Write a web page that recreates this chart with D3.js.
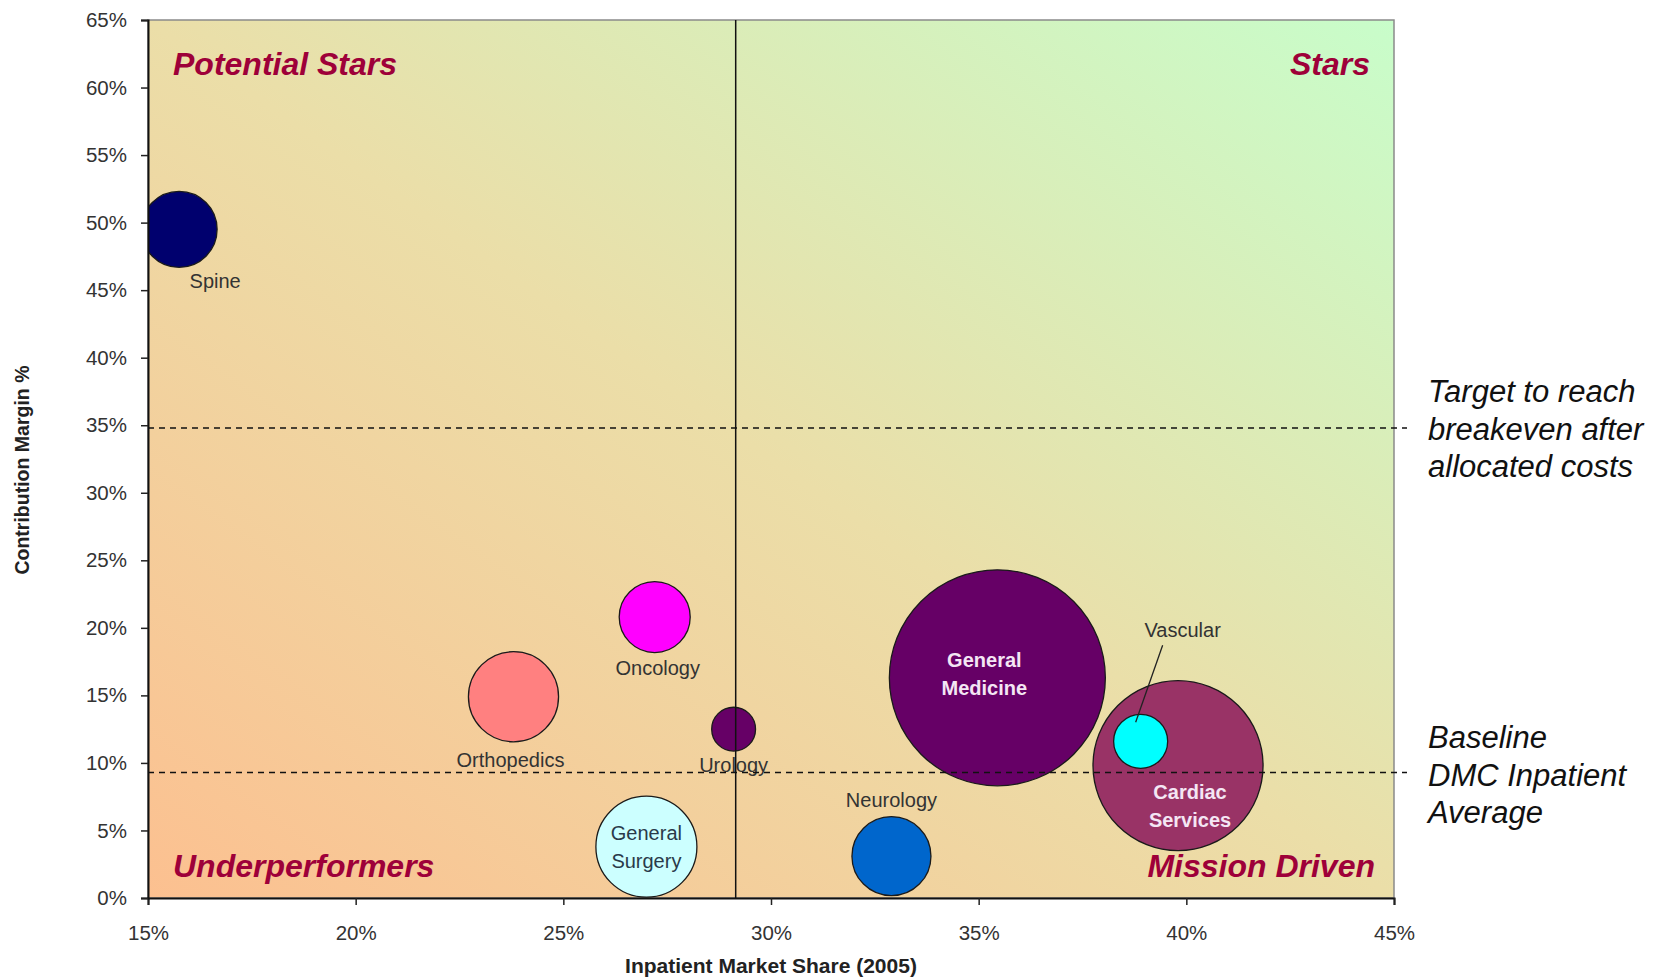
<!DOCTYPE html>
<html>
<head>
<meta charset="utf-8">
<script src="https://cdn.jsdelivr.net/npm/d3@7"></script>
<style>
  html, body { margin: 0; padding: 0; background: #fff; }
  text { font-family: Arial, "Liberation Sans", sans-serif; }
</style>
</head>
<body>
<div id="viz"></div>
<script>
// ── DATA ────────────────────────────────────────────────────────────────────
const departments = ["Spine", "Oncology", "Orthopedics", "Urology", "General Surgery",
                     "General Medicine", "Cardiac Services", "Vascular", "Neurology"];
const marketShare = [15.75, 27.2, 23.8, 29.1, 27.0, 35.45, 39.8, 38.9, 32.9];      // x, %
const contributionMargin = [49.5, 20.8, 14.9, 12.5, 3.8, 16.3, 9.8, 11.6, 3.1];   // y, %
const volume = [1440, 1260, 2030, 480, 2550, 11660, 7230, 730, 1560];             // bubble size
const bubbleColors = ["#00006e", "#ff00ff", "#ff8080", "#660066", "#ccffff",
                      "#660066", "#993366", "#00ffff", "#0066cc"];

const xTicks = [15, 20, 25, 30, 35, 40, 45];
const yTicks = [0, 5, 10, 15, 20, 25, 30, 35, 40, 45, 50, 55, 60, 65];

const avgShare = 29.15;         // vertical divider
const targetMargin = 34.8;      // breakeven target
const baselineMargin = 9.3;     // DMC inpatient average

const quadrants = ["Potential Stars", "Stars", "Underperformers", "Mission Driven"];
const targetNote = ["Target to reach", "breakeven after", "allocated costs"];
const baselineNote = ["Baseline", "DMC Inpatient", "Average"];

// ── SETTINGS ────────────────────────────────────────────────────────────────
const width = 1665, height = 980;
const plot = { left: 148, right: 1394, top: 20, bottom: 898 };

// label placement relative to each bubble centre (px)
const labelStyle = {
  "Spine":            { dx: 36, dy: [59] },
  "Oncology":         { dx: 3,  dy: [58] },
  "Orthopedics":      { dx: -3, dy: [70] },
  "Urology":          { dx: 0,  dy: [43] },
  "General Surgery":  { dx: 0,  dy: [-7, 21], lines: ["General", "Surgery"], fill: "#2a3a4a" },
  "General Medicine": { dx: -13, dy: [-11, 17], lines: ["General", "Medicine"], fill: "#f4e6f4", bold: true },
  "Cardiac Services": { dx: 12, dy: [33, 61], lines: ["Cardiac", "Services"], fill: "#f4e6f4", bold: true },
  "Vascular":         { dx: 42, dy: [-104] },
  "Neurology":        { dx: 0,  dy: [-49] }
};

const svg = d3.select("#viz").append("svg")
    .attr("viewBox", [0, 0, width, height])
    .attr("width", width)
    .attr("height", height);

const x = d3.scaleLinear().domain([15, 45]).range([plot.left, plot.right]);
const y = d3.scaleLinear().domain([0, 65]).range([plot.bottom, plot.top]);
const r = d3.scaleSqrt().domain([0, d3.max(volume)]).range([0, 108]);

// ── BACKGROUND ──────────────────────────────────────────────────────────────
const defs = svg.append("defs");
const grad = defs.append("linearGradient")
    .attr("id", "bg")
    .attr("x1", 0).attr("y1", 1).attr("x2", 1).attr("y2", 0);
grad.append("stop").attr("offset", "0%").attr("stop-color", "#fcc090");
grad.append("stop").attr("offset", "50%").attr("stop-color", "#ebdea8");
grad.append("stop").attr("offset", "100%").attr("stop-color", "#c8fdca");

defs.append("clipPath").attr("id", "plotClip")
  .append("rect")
    .attr("x", plot.left).attr("y", plot.top)
    .attr("width", plot.right - plot.left).attr("height", plot.bottom - plot.top);

svg.append("rect")
    .attr("x", plot.left).attr("y", plot.top)
    .attr("width", plot.right - plot.left).attr("height", plot.bottom - plot.top)
    .attr("fill", "url(#bg)")
    .attr("stroke", "#8a8a8a")
    .attr("stroke-width", 1.5);

// ── BUBBLES ─────────────────────────────────────────────────────────────────
const data = departments.map((name, i) => ({
  name,
  share: marketShare[i],
  margin: contributionMargin[i],
  volume: volume[i],
  color: bubbleColors[i]
}));

// large bubbles first so small ones (Vascular) sit on top
const order = ["Spine", "Oncology", "Orthopedics", "Urology", "General Surgery",
               "General Medicine", "Neurology", "Cardiac Services", "Vascular"];
const drawData = order.map(n => data.find(d => d.name === n));

svg.append("g")
    .attr("clip-path", "url(#plotClip)")
  .selectAll("circle")
  .data(drawData)
  .join("circle")
    .attr("cx", d => x(d.share))
    .attr("cy", d => y(d.margin))
    .attr("r", d => r(d.volume))
    .attr("fill", d => d.color)
    .attr("stroke", "#1a1a1a")
    .attr("stroke-width", 1.3);

// Vascular leader line
const vasc = data.find(d => d.name === "Vascular");
svg.append("line")
    .attr("x1", x(vasc.share) + 22).attr("y1", y(vasc.margin) - 96)
    .attr("x2", x(vasc.share) - 5).attr("y2", y(vasc.margin) - 19)
    .attr("stroke", "#222")
    .attr("stroke-width", 1.3);

// bubble labels
const labels = svg.append("g");
data.forEach(d => {
  const s = labelStyle[d.name];
  const lines = s.lines || [d.name];
  lines.forEach((ln, k) => {
    labels.append("text")
        .attr("x", x(d.share) + s.dx)
        .attr("y", y(d.margin) + s.dy[k])
        .attr("text-anchor", "middle")
        .attr("font-size", "20px")
        .attr("font-weight", s.bold ? "bold" : "normal")
        .attr("fill", s.fill || "#333")
        .text(ln);
  });
});

// ── REFERENCE LINES ─────────────────────────────────────────────────────────
svg.append("line")
    .attr("x1", x(avgShare)).attr("x2", x(avgShare))
    .attr("y1", plot.top).attr("y2", plot.bottom)
    .attr("stroke", "#111")
    .attr("stroke-width", 1.5);

[targetMargin, baselineMargin].forEach(v => {
  svg.append("line")
      .attr("x1", plot.left).attr("x2", plot.right + 13)
      .attr("y1", y(v)).attr("y2", y(v))
      .attr("stroke", "#111")
      .attr("stroke-width", 1.5)
      .attr("stroke-dasharray", "6,5");
});

// ── AXES ────────────────────────────────────────────────────────────────────
const xAxis = svg.append("g")
    .attr("transform", `translate(0,${plot.bottom})`)
    .call(d3.axisBottom(x).tickValues(xTicks).tickSize(7).tickPadding(20)
      .tickFormat(d => d + "%"));
const yAxis = svg.append("g")
    .attr("transform", `translate(${plot.left},0)`)
    .call(d3.axisLeft(y).tickValues(yTicks).tickSize(7).tickPadding(14)
      .tickFormat(d => d + "%"));

[xAxis, yAxis].forEach(g => {
  g.select(".domain").attr("stroke", "#111").attr("stroke-width", 2);
  g.selectAll(".tick line").attr("stroke", "#222").attr("stroke-width", 1.5);
  g.selectAll(".tick text")
      .attr("font-size", "20.5px")
      .attr("font-family", "Arial, 'Liberation Sans', sans-serif")
      .attr("fill", "#333");
});

svg.append("text")
    .attr("x", x(30))
    .attr("y", 973)
    .attr("text-anchor", "middle")
    .attr("font-size", "21px")
    .attr("font-weight", "bold")
    .attr("fill", "#222")
    .text("Inpatient Market Share (2005)");

svg.append("text")
    .attr("transform", `translate(29,${(plot.top + plot.bottom) / 2 + 11}) rotate(-90)`)
    .attr("text-anchor", "middle")
    .attr("font-size", "19.5px")
    .attr("font-weight", "bold")
    .attr("fill", "#222")
    .text("Contribution Margin %");

// ── QUADRANT TITLES ─────────────────────────────────────────────────────────
const quadPos = [
  { x: plot.left + 25, y: 75, anchor: "start" },
  { x: plot.right - 24, y: 75, anchor: "end" },
  { x: plot.left + 25, y: 877, anchor: "start" },
  { x: plot.right - 19, y: 877, anchor: "end" }
];
svg.selectAll(".quad")
  .data(quadrants)
  .join("text")
    .attr("class", "quad")
    .attr("x", (d, i) => quadPos[i].x)
    .attr("y", (d, i) => quadPos[i].y)
    .attr("text-anchor", (d, i) => quadPos[i].anchor)
    .attr("font-size", "32px")
    .attr("font-weight", "bold")
    .attr("font-style", "italic")
    .attr("fill", "#9e0039")
    .text(d => d);

// ── SIDE NOTES ──────────────────────────────────────────────────────────────
function note(lines, firstBaseline) {
  svg.append("g").selectAll("text")
    .data(lines)
    .join("text")
      .attr("x", 1428)
      .attr("y", (d, i) => firstBaseline + i * 37.5)
      .attr("font-size", "31px")
      .attr("font-style", "italic")
      .attr("fill", "#111")
      .text(d => d);
}
note(targetNote, 402);
note(baselineNote, 748);
</script>
</body>
</html>
